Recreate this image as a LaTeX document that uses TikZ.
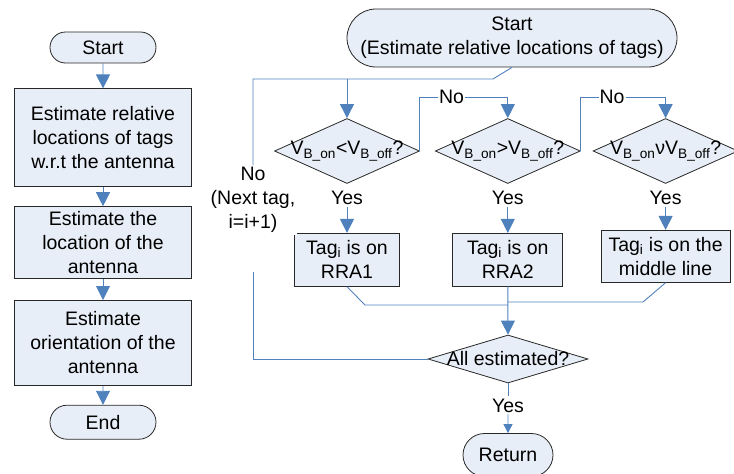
\documentclass[tikz,border=0pt]{standalone}
\usepackage{fontspec}
\setmainfont{Liberation Sans}
\usetikzlibrary{arrows.meta,positioning,shapes.geometric,shapes.misc}
\definecolor{boxfill}{RGB}{232,238,247}
\definecolor{flowblue}{RGB}{79,129,189}
\definecolor{boxline}{RGB}{40,40,40}

\begin{document}
\begin{tikzpicture}[x=1pt, y=-1pt, node distance=20pt,
    font=\fontsize{19.5pt}{24pt}\selectfont,
    term/.style={draw=boxline, line width=0.8pt, fill=boxfill, rounded rectangle, inner sep=0pt},
    proc/.style={draw=boxline, line width=0.8pt, fill=boxfill, rectangle, align=center, inner sep=0pt},
    decision/.style={draw=boxline, line width=0.8pt, fill=boxfill, diamond, inner sep=0pt,
        minimum width=145pt, minimum height=65pt},
    flow/.style={draw=flowblue, line width=0.9pt},
    arr/.style={flow, -{Triangle[length=14pt,width=14pt]}},
    smallarr/.style={flow, -{Triangle[length=9pt,width=9pt]}},
    lbl/.style={fill=white, inner sep=1pt},
    yes/.style={inner sep=2pt}]
    \useasboundingbox (0,0) rectangle (734,474);

    % overall procedure
    \node[term, minimum width=106pt, minimum height=31pt] (lstart) at (103,47.5) {Start};
    \node[proc, below=25pt of lstart, minimum width=177pt, minimum height=98pt] (lrel) {Estimate relative\\locations of tags\\w.r.t the antenna};
    \node[proc, below=19pt of lrel, minimum width=177pt, minimum height=72pt] (lant) {Estimate the\\location of the\\antenna};
    \node[proc, below=21pt of lant, minimum width=177pt, minimum height=85pt] (lori) {Estimate\\orientation of the\\antenna};
    \node[term, below=19pt of lori, minimum width=106pt, minimum height=34pt] (lend) {End};

    \draw[arr] (lstart) -- (lrel);
    \draw[arr] (lrel) -- (lant);
    \draw[arr] (lant) -- (lori);
    \draw[arr] (lori) -- (lend);

    % relative locations of the tags
    \node[term, minimum width=330pt, minimum height=58pt, align=center] (rstart) at (512,38) {Start\\(Estimate relative locations of tags)};
    \coordinate (split) at (493,79);
    \coordinate (nolevel) at (0,97);

    \node[decision] (vless) at (347,151) {\makebox[0pt]{V\textsubscript{B\_on}<V\textsubscript{B\_off}?}};
    \node[decision, right=15pt of vless] (vmore) {\makebox[0pt]{V\textsubscript{B\_on}>V\textsubscript{B\_off}?}};
    \node[decision, right=12pt of vmore] (vsame) {\makebox[0pt]{V\textsubscript{B\_on}νV\textsubscript{B\_off}?}};

    \node[yes, below=5pt of vless] (yless) {Yes};
    \node[yes, below=5pt of vmore] (ymore) {Yes};
    \node[yes, below=5pt of vsame] (ysame) {Yes};

    \node[proc, below=26pt of yless, minimum width=105pt, minimum height=53pt] (tag1) {Tag\textsubscript{i} is on\\RRA1};
    \node[proc, below=26pt of ymore, minimum width=110pt, minimum height=53pt] (tag2) {Tag\textsubscript{i} is on\\RRA2};
    \node[proc, below=23pt of ysame, minimum width=129pt, minimum height=52pt] (tag3) {Tag\textsubscript{i} is on the\\middle line};

    \node[decision, minimum width=160pt, minimum height=48pt] (allest) at (508,359) {\makebox[0pt]{All estimated?}};
    \node[yes, below=13pt of allest] (ydone) {Yes};
    \node[term, minimum width=90pt, minimum height=43pt] (ret) at (508,455) {Return};

    \node[align=center, fill=white, inner sep=2pt] (nexttag) at (253,200) {No\\(Next tag,\\i=i+1)};
    \coordinate (loopgap) at (253,272);

    % connectors
    \draw[flow] (rstart.south) -- (split) -| (nexttag.north);
    \draw[arr] (split -| vless.north) -- (vless.north);
    \draw[arr] (vless.east) -- (vless.east |- nolevel) -- node[lbl, pos=0.36] {No} (vmore.north |- nolevel) -- (vmore.north);
    \draw[arr] (vmore.east) -- (vmore.east |- nolevel) -- node[lbl, pos=0.37] {No} (vsame.north |- nolevel) -- (vsame.north);

    \draw[arr] (yless) -- (tag1);
    \draw[arr] (ymore) -- (tag2);
    \draw[arr] (ysame) -- (tag3);

    \coordinate (mleft) at (365,305);
    \coordinate (mright) at (643,302);
    \draw[flow] (tag1.south) -- (mleft) -- (mleft -| tag2.south);
    \draw[flow] (tag3.south) -- (mright) -- (mright -| tag2.south);
    \draw[arr] (tag2.south) -- (allest.north);

    \draw[flow] (allest.west) -| (loopgap);
    \draw[flow] (allest.south) -- (ydone);
    \draw[smallarr] (ydone) -- (ret);
\end{tikzpicture}
\end{document}
